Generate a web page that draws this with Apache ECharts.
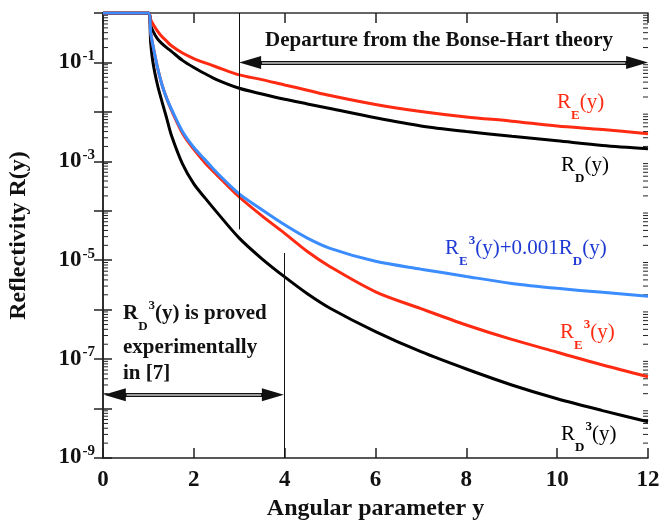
<!DOCTYPE html>
<html>
<head>
<meta charset="utf-8">
<script src="https://cdn.jsdelivr.net/npm/echarts@6/dist/echarts.min.js"></script>
<style>
  html, body { margin: 0; padding: 0; background: #fff; }
  #main { width: 660px; height: 523px; }
</style>
</head>
<body>
<div id="main"></div>
<script>
// angular parameter y
const ys = [0, 1, 1.05, 1.1, 1.2, 1.3, 1.4, 1.5, 1.75, 2, 2.25, 2.5, 3, 3.5, 4, 4.5, 5, 6, 7, 8, 9, 10, 11, 12]

// reflectivities
const rE = [1, 1, 0.74, 0.60, 0.43, 0.33, 0.27, 0.22, 0.155, 0.12, 0.098, 0.081, 0.056, 0.045, 0.035, 0.0275, 0.0214, 0.0141, 0.0102, 0.0079, 0.0065, 0.0052, 0.0044, 0.0036]
const rD = [1, 1, 0.56, 0.43, 0.30, 0.24, 0.20, 0.17, 0.11, 0.079, 0.059, 0.045, 0.030, 0.023, 0.018, 0.0145, 0.0117, 0.0076, 0.0052, 0.0040, 0.0032, 0.0026, 0.0021, 0.0018]
const rD3 = [1, 1, 0.25, 0.1, 0.035, 0.016, 7.6e-3, 3.5e-3, 8.9e-4, 3.5e-4, 1.8e-4, 9.5e-5, 2.8e-5, 1.07e-5, 4.6e-6, 2.1e-6, 1.07e-6, 3.6e-7, 1.41e-7, 6.3e-8, 3.0e-8, 1.58e-8, 9.1e-9, 5.4e-9]
const rE3 = [1, 1, 0.4, 0.22, 0.079, 0.035, 0.019, 0.0112, 3.7e-3, 1.74e-3, 9.3e-4, 5.4e-4, 1.9e-4, 7.9e-5, 3.5e-5, 1.5e-5, 7.4e-6, 2.3e-6, 1.05e-6, 4.9e-7, 2.5e-7, 1.38e-7, 7.6e-8, 4.4e-8]
const rMix = [1, 1, 0.4, 0.22, 0.079, 0.035, 0.019, 0.0117, 4.0e-3, 1.9e-3, 1.07e-3, 6.0e-4, 2.19e-4, 1.05e-4, 5.2e-5, 2.8e-5, 1.74e-5, 9.5e-6, 6.6e-6, 4.7e-6, 3.4e-6, 2.7e-6, 2.24e-6, 1.86e-6]

const xTicks = [0, 2, 4, 6, 8, 10, 12]

const FONT = 'Liberation Serif'
const RED = '#ff2a12'
const BLUE = '#3a8cff'
const BLUE_TXT = '#1f3ad2'

const pairs = arr => ys.map((y, i) => [y, arr[i]])

// minor log ticks 2..9 in every decade
const minorVals = []
for (let k = -9; k < 0; k++) {
  for (let m = 2; m <= 9; m++) minorVals.push(m * Math.pow(10, k))
}

const chart = echarts.init(document.getElementById('main'))

const curve = (name, arr, color) => ({
  name: name,
  type: 'line',
  data: pairs(arr),
  showSymbol: false,
  smooth: 0.3,
  lineStyle: { color: color, width: 3 },
  itemStyle: { color: color },
  z: 2
})

const noteLine = (data, width, color, symbols, z) => ({
  type: 'line',
  data: [],
  z: z,
  markLine: {
    silent: true,
    animation: false,
    symbol: symbols || ['none', 'none'],
    symbolSize: [13, 22],
    label: { show: false },
    lineStyle: { color: color, width: width, type: 'solid' },
    emphasis: { disabled: true },
    data: data
  }
})

const labRich = (color, bold) => ({
  m: { fontFamily: FONT, fontSize: 21, fontWeight: bold ? 'bold' : 'normal', fill: color, padding: [6, 0, 0, 0], verticalAlign: 'top', lineHeight: 42 },
  sb: { fontFamily: FONT, fontSize: 13, fontWeight: 'bold', fill: color, padding: [23, 0, 0, 0], verticalAlign: 'top', lineHeight: 42 },
  sp: { fontFamily: FONT, fontSize: 13, fontWeight: 'bold', fill: color, padding: [2, 0, 0, 1], verticalAlign: 'top', lineHeight: 42 }
})

const richText = (x, y, text, color, bold) => ({
  type: 'text',
  x: x,
  y: y,
  silent: true,
  style: { text: text, rich: labRich(color, bold), fill: color, verticalAlign: 'top', align: 'left' }
})

const plainText = (x, y, text, size) => ({
  type: 'text',
  x: x,
  y: y,
  silent: true,
  style: { text: text, font: 'bold ' + size + 'px ' + FONT, fill: '#111', verticalAlign: 'middle', align: 'left' }
})

const option = {
  animation: false,
  backgroundColor: '#fff',
  grid: { left: 103, right: 12, top: 13, bottom: 65, containLabel: false, outerBoundsMode: 'none' },
  xAxis: [
    {
      type: 'value',
      min: 0,
      max: 12,
      interval: 2,
      name: 'Angular parameter y',
      nameLocation: 'middle',
      nameGap: 39,
      nameTextStyle: { fontFamily: FONT, fontSize: 24, fontWeight: 'bold', color: '#111' },
      axisLine: { show: true, lineStyle: { color: '#222', width: 1.5 } },
      axisTick: { show: true, inside: true, length: 10, lineStyle: { color: '#222', width: 1.5 } },
      axisLabel: {
        margin: 11,
        fontFamily: FONT,
        fontSize: 23,
        fontWeight: 'bold',
        color: '#111',
        formatter: v => xTicks.includes(v) ? String(v) : ''
      },
      splitLine: { show: false }
    },
    {
      type: 'value',
      min: 0,
      max: 12,
      interval: 2,
      position: 'top',
      axisLine: { show: true, onZero: false, lineStyle: { color: '#333', width: 1.5 } },
      axisTick: { show: true, inside: true, length: 10, lineStyle: { color: '#222', width: 1.5 } },
      axisLabel: { show: false },
      splitLine: { show: false }
    }
  ],
  yAxis: [
    {
      type: 'log',
      logBase: 10,
      min: 1e-9,
      max: 1,
      splitNumber: 9,
      name: 'Reflectivity R(y)',
      nameLocation: 'middle',
      nameGap: 72,
      nameTextStyle: { fontFamily: FONT, fontSize: 24, fontWeight: 'bold', color: '#111' },
      axisLine: { show: true, lineStyle: { color: '#222', width: 1.5 } },
      axisTick: { show: true, inside: true, length: 9, lineStyle: { color: '#222', width: 1.5 } },
      axisLabel: {
        margin: 8,
        formatter: v => {
          const e = Math.round(Math.log10(v))
          if (e % 2 === 0) return ''
          return '{b|10}{s|' + e + '}'
        },
        rich: {
          b: { fontFamily: FONT, fontSize: 23, fontWeight: 'bold', color: '#111', padding: [3, 0, 0, 0], verticalAlign: 'top', lineHeight: 30 },
          s: { fontFamily: FONT, fontSize: 15, fontWeight: 'bold', color: '#111', padding: [1, 0, 0, 1], verticalAlign: 'top', lineHeight: 30 }
        }
      },
      splitLine: { show: false },
      minorTick: { show: false }
    },
    {
      type: 'log',
      logBase: 10,
      min: 1e-9,
      max: 1,
      splitNumber: 9,
      position: 'right',
      axisLine: { show: true, lineStyle: { color: '#222', width: 1.5 } },
      axisTick: { show: true, inside: true, length: 9, lineStyle: { color: '#222', width: 1.5 } },
      axisLabel: { show: false },
      splitLine: { show: false }
    }
  ],
  series: [
    {
      type: 'custom',
      silent: true,
      clip: false,
      data: minorVals.map(v => [0, v]),
      renderItem: (params, api) => {
        const v = api.value(1)
        const l = api.coord([0, v])
        const r = api.coord([12, v])
        const st = { stroke: '#222', lineWidth: 1 }
        return {
          type: 'group',
          children: [
            { type: 'line', shape: { x1: l[0], y1: l[1], x2: l[0] + 5, y2: l[1] }, style: st },
            { type: 'line', shape: { x1: r[0] - 5, y1: r[1], x2: r[0], y2: r[1] }, style: st }
          ]
        }
      },
      z: 1
    },
    curve('RD', rD, '#000'),
    curve('RE', rE, RED),
    curve('RD3', rD3, '#000'),
    curve('RE3', rE3, RED),
    curve('RE3+0.001RD', rMix, BLUE),
    // vertical markers
    noteLine([
      [{ coord: [3, 1] }, { coord: [3, 4.2e-5] }],
      [{ coord: [4, 1.4e-5] }, { coord: [4, 1e-9] }]
    ], 1, '#111', null, 3),
    // arrow shafts with heads
    noteLine([
      [{ coord: [3.24, 0.1] }, { coord: [11.76, 0.1] }],
      [{ coord: [0.26, 1.9e-8] }, { coord: [3.74, 1.9e-8] }]
    ], 4, '#111', ['triangle', 'triangle'], 4),
    // light core of the double shafts
    noteLine([
      [{ coord: [3.5, 0.1] }, { coord: [11.5, 0.1] }],
      [{ coord: [0.52, 1.9e-8] }, { coord: [3.48, 1.9e-8] }]
    ], 1.5, '#c8c8c8', null, 5)
  ],
  graphic: [
    plainText(265, 41, 'Departure from the Bonse-Hart theory', 21),
    richText(557, 86, '{m|R}{sb|E}{m|(y)}', RED, false),
    richText(561, 149, '{m|R}{sb|D}{m|(y)}', '#000', false),
    richText(445, 232, '{m|R}{sb|E}{sp|3}{m|(y)+0.001R}{sb|D}{m|(y)}', BLUE_TXT, false),
    richText(560, 316, '{m|R}{sb|E}{sp|3}{m|(y)}', RED, false),
    richText(561, 418, '{m|R}{sb|D}{sp|3}{m|(y)}', '#000', false),
    richText(123, 297, '{m|R}{sb|D}{sp|3}{m|(y) is proved}', '#111', true),
    plainText(123, 348, 'experimentally', 21),
    plainText(123, 374, 'in [7]', 21)
  ]
}

chart.setOption(option)
</script>
</body>
</html>
